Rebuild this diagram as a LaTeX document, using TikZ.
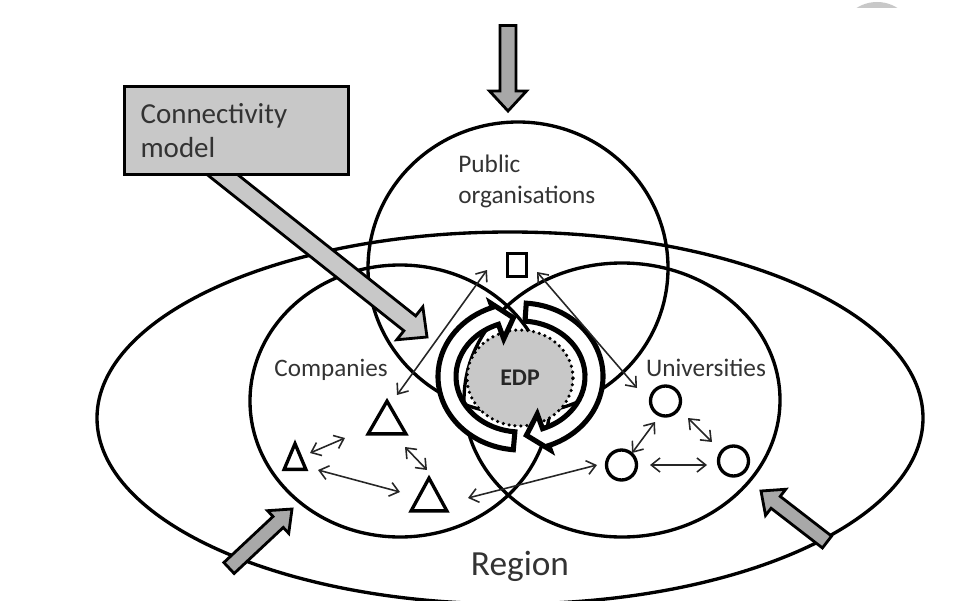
\documentclass[tikz,border=0pt]{standalone}
\usepackage{fontspec}
\setmainfont{Carlito}
\usetikzlibrary{arrows.meta,calc,shapes.geometric}
\definecolor{txtc}{HTML}{333333}
\definecolor{lgray}{HTML}{C8C8C8}
\definecolor{mgray}{HTML}{A8A8A8}
% block arrow: #1 tail coordinate, #2 tip coordinate, #3 shaft half width, #4 head half width, #5 head length, #6 style
\newcommand{\blockarr}[6]{%
  \coordinate (ba-b) at ($(#2)!#5!(#1)$);
  \filldraw[#6] ($(#1)!#3!90:(#2)$) -- ($(ba-b)!#3!-90:(#1)$) -- ($(ba-b)!#4!-90:(#1)$) -- (#2)
     -- ($(ba-b)!#4!90:(#1)$) -- ($(ba-b)!#3!90:(#1)$) -- ($(#1)!#3!-90:(#2)$) -- cycle;}
\begin{document}
\begin{tikzpicture}[x=0.02cm,y=-0.02cm,
  bigc/.style={draw=black,line width=1.9pt},
  ringarr/.style={draw=black,fill=white,line width=2.9pt,line join=miter},
  shp/.style={draw=black,line width=1.9pt,fill=white,inner sep=0pt},
  tribox/.style={inner sep=0pt},
  trishape/.style={draw=black,line width=1.9pt,fill=white,line join=miter},
  dbl/.style={draw=black!85,line width=0.9pt,arrows={Straight Barb[length=5pt,width=8pt]-Straight Barb[length=5pt,width=8pt]}},
  blk/.style={draw=black,line width=1.6pt,fill=mgray,line join=miter},
  blkl/.style={draw=black,line width=1.6pt,fill=lgray,line join=miter},
  lbl/.style={text=txtc,inner sep=0pt}]
\useasboundingbox (0,0) rectangle (966,601);

% faint artifact at top right
\begin{scope}
  \clip (830,0) rectangle (930,8);
  \fill[lgray] (877,40) circle [radius=38];
\end{scope}

% region and the three sets
\draw[bigc] (510,418) ellipse [x radius=413, y radius=186];
\draw[bigc] (518,268) ellipse [x radius=150, y radius=146];
\draw[bigc] (400,401) ellipse [x radius=150, y radius=136];
\draw[bigc] (622,400) ellipse [x radius=158, y radius=137];

% EDP core
\node[ellipse,fill=lgray,draw=black,line width=2pt,dash pattern=on 0pt off 3.4pt,line cap=round,
      minimum width=2.12cm,minimum height=1.92cm,inner sep=0pt,
      font=\fontsize{13.6}{16}\selectfont\bfseries,text=black!85] (edp) at (520,378) {EDP};

% circular arrows around EDP
\begin{scope}[shift={(520.5,376.5)}]
  \filldraw[ringarr] (95:82.5 and 73.5) arc[start angle=95,end angle=250,x radius=82.5,y radius=73.5]
     -- (250:87 and 78) -- (264:68 and 59) -- (250:49 and 40)
     -- (250:64.5 and 55.5) arc[start angle=250,end angle=95,x radius=64.5,y radius=55.5] -- cycle;
  \filldraw[ringarr] (-86:82.5 and 73.5) arc[start angle=-86,end angle=70,x radius=82.5,y radius=73.5]
     -- (70:87 and 78) -- (85:68 and 59) -- (70:49 and 40)
     -- (70:64.5 and 55.5) arc[start angle=70,end angle=-86,x radius=64.5,y radius=55.5] -- cycle;
\end{scope}

% actors
\node[shp,rectangle,minimum width=0.38cm,minimum height=0.46cm] (pub) at (517,265) {};
\node[tribox,minimum width=0.74cm,minimum height=0.64cm] (t1) at (387,417.5) {};
\node[tribox,minimum width=0.42cm,minimum height=0.5cm] (t2) at (295,456.5) {};
\node[tribox,minimum width=0.7cm,minimum height=0.64cm] (t3) at (429,494.5) {};
\draw[trishape] (t1.south west) -- (t1.south east) -- (t1.north) -- cycle;
\draw[trishape] (t2.south west) -- (t2.south east) -- (t2.north) -- cycle;
\draw[trishape] (t3.south west) -- (t3.south east) -- (t3.north) -- cycle;
\node[shp,circle,minimum size=0.6cm] (c1) at (665.5,401) {};
\node[shp,circle,minimum size=0.6cm] (c2) at (621.5,465) {};
\node[shp,circle,minimum size=0.6cm] (c3) at (733.5,461) {};

% interactions
\draw[dbl] ([shift={(15,-3.5)}]t2.center) -- ([shift={(-42,20.5)}]t1.center);
\draw[dbl] ([shift={(23,13.5)}]t2.center) -- ([shift={(-29,-2.5)}]t3.center);
\draw[dbl] ([shift={(18,29.5)}]t1.center) -- ([shift={(-2,-24.5)}]t3.center);
\draw[dbl] ([shift={(39,3.5)}]t3.center) -- ([shift={(-24.5,0)}]c2.center);
\draw[dbl] ([shift={(-10.5,21)}]c1.center) -- ([shift={(10.5,-12)}]c2.center);
\draw[dbl] ([shift={(22.5,17)}]c1.center) -- ([shift={(-21.5,-19)}]c3.center);
\draw[dbl] ([shift={(28.5,0)}]c2.center) -- ([shift={(-26.5,4)}]c3.center);
\draw[dbl] ([shift={(-30,5)}]pub.center) -- ([shift={(10,-22.5)}]t1.center);
\draw[dbl] ([shift={(20,7)}]pub.center) -- ([shift={(-28.5,-13)}]c1.center);

% external block arrows
\coordinate (topS) at (508,25.5);
\coordinate (topT) at (508,111);
\blockarr{topS}{topT}{0.16cm}{0.37cm}{0.4cm}{blk}
\coordinate (blS) at (229,568);
\coordinate (blT) at (292,509);
\blockarr{blS}{blT}{0.15cm}{0.31cm}{0.38cm}{blk}
\coordinate (brS) at (827,542);
\coordinate (brT) at (761,491);
\blockarr{brS}{brT}{0.15cm}{0.33cm}{0.37cm}{blk}
\coordinate (cmS) at (204,160);
\coordinate (cmT) at (427,337);
\blockarr{cmS}{cmT}{0.19cm}{0.42cm}{0.44cm}{blkl}

% connectivity model box
\node[draw=black,line width=1.8pt,fill=lgray,anchor=north west,minimum width=4.48cm,minimum height=1.76cm,
      text width=3.84cm,inner xsep=0.32cm,inner ysep=0pt,align=left,text=txtc,
      font=\fontsize{16.5}{19.8}\selectfont] (conn) at (123,85) {Connectivity\\model};

% labels
\node[lbl,font=\fontsize{14.4}{17.2}\selectfont,anchor=base west,align=left] (publbl) at (458,203) {Public\\organisations};
\node[lbl,font=\fontsize{14.3}{17}\selectfont,anchor=base] (complbl) at (331,376) {Companies};
\node[lbl,font=\fontsize{14.4}{17}\selectfont,anchor=base] (unilbl) at (706,376) {Universities};
\node[lbl,font=\fontsize{20.1}{24}\selectfont,anchor=base] (reglbl) at (520,575) {Region};
\end{tikzpicture}
\end{document}
